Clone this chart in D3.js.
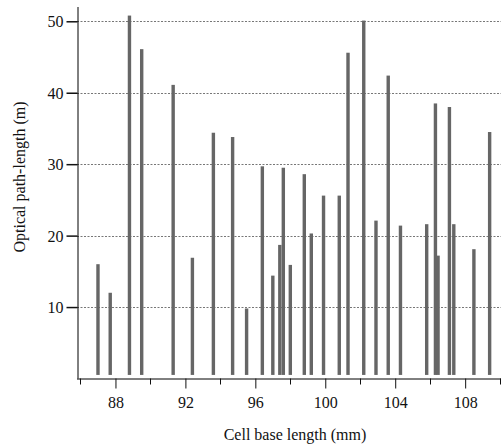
<!DOCTYPE html>
<html>
<head>
<meta charset="utf-8">
<script src="https://cdn.jsdelivr.net/npm/d3@7"></script>
<style>
  html, body { margin: 0; padding: 0; background: #fff; }
  svg { display: block; }
</style>
</head>
<body>
<svg id="chart" width="501" height="446"></svg>
<script>
// Cell base length (mm)
const baseLength = [87.0, 87.7, 88.8, 89.5, 91.3, 92.4, 93.6, 94.7, 95.5, 96.4,
                    97.0, 97.4, 97.6, 98.0, 98.8, 99.2, 99.9, 100.8, 101.3, 102.2,
                    102.9, 103.6, 104.3, 105.8, 106.3, 106.45, 107.1, 107.35, 108.5, 109.4];
// Optical path-length (m)
const pathLength = [16.0, 12.0, 50.8, 46.1, 41.1, 16.9, 34.4, 33.8, 9.8, 29.7,
                    14.4, 18.7, 29.5, 15.9, 28.6, 20.3, 25.6, 25.6, 45.6, 50.1,
                    22.1, 42.4, 21.4, 21.6, 38.5, 17.2, 38.0, 21.6, 18.1, 34.5];
const xTicks = [88, 92, 96, 100, 104, 108];
const xMinorTicks = [86, 90, 94, 98, 102, 106, 110];
const yTicks = [10, 20, 30, 40, 50];
const barBase = 0.5;

const FONT = "'Liberation Serif', 'Times New Roman', Tinos, 'DejaVu Serif', serif";
const FS = "16px";

const svg = d3.select("#chart");
const x = d3.scaleLinear().domain([85.8, 110.05]).range([77, 501]);
const y = d3.scaleLinear().domain([0, 52]).range([378.5, 7]);

// gridlines
svg.append("g").selectAll("line").data(yTicks).join("line")
  .attr("x1", 77).attr("x2", 501)
  .attr("y1", d => Math.round(y(d)) + 0.5).attr("y2", d => Math.round(y(d)) + 0.5)
  .attr("stroke", "#777").attr("stroke-width", 1).attr("stroke-dasharray", "2,1.5");

// bars
const data = baseLength.map((b, i) => ({ b, v: pathLength[i] }));
const bw = 3.4;
svg.append("g").selectAll("rect").data(data).join("rect")
  .attr("x", d => x(d.b) - bw / 2)
  .attr("width", bw)
  .attr("y", d => y(d.v))
  .attr("height", d => y(barBase) - y(d.v))
  .attr("fill", "#666");

// y axis
const yAxis = d3.axisLeft(y).tickValues(yTicks).tickSize(11).tickPadding(3).tickFormat(d3.format("d"));
const gy = svg.append("g").attr("transform", "translate(77.5,0)").attr("font-family", null).call(yAxis);
gy.attr("font-family", FONT);
gy.select(".domain").attr("d", "M0.5,7V378.5");
gy.selectAll(".tick line").attr("stroke-width", 1.5).attr("stroke", "#111");
gy.selectAll("text").style("font-size", FS).style("font-family", FONT).attr("fill", "#111").attr("dy", "0.34em");

// x axis major
const xAxis = d3.axisBottom(x).tickValues(xTicks).tickSize(10).tickPadding(8.5).tickFormat(d3.format("d"));
const gx = svg.append("g").attr("transform", "translate(0,378.5)").call(xAxis);
gx.attr("font-family", FONT);
gx.select(".domain").attr("d", "M77,0.5H501");
gx.selectAll(".tick line").attr("stroke", "#111");
gx.selectAll("text").style("font-size", FS).style("font-family", FONT).attr("fill", "#111");

// x axis minor ticks
svg.append("g").selectAll("line").data(xMinorTicks).join("line")
  .attr("x1", d => Math.round(x(d)) + 0.5).attr("x2", d => Math.round(x(d)) + 0.5)
  .attr("y1", 378.5).attr("y2", 384.5)
  .attr("stroke", "#111").attr("stroke-width", 1);

// axis titles
svg.append("text")
  .attr("x", 295).attr("y", 439.5)
  .attr("text-anchor", "middle")
  .style("font-size", FS).style("font-family", FONT).attr("fill", "#111")
  .text("Cell base length (mm)");
svg.append("text")
  .attr("transform", "translate(24.5,177) rotate(-90)")
  .attr("text-anchor", "middle")
  .style("font-size", FS).style("font-family", FONT).attr("fill", "#111")
  .text("Optical path-length (m)");
</script>
</body>
</html>
